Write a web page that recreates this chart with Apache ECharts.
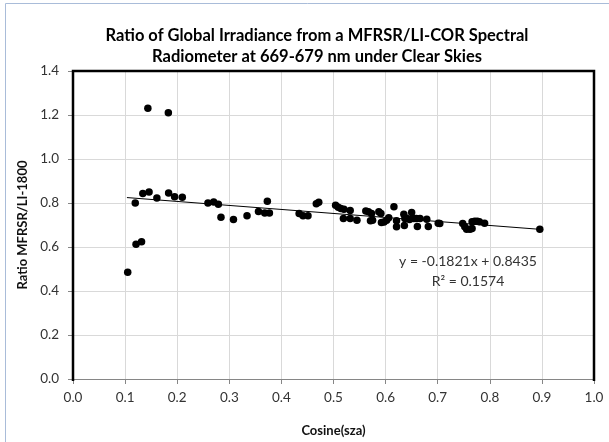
<!DOCTYPE html>
<html>
<head>
<meta charset="utf-8">
<script src="https://cdn.jsdelivr.net/npm/echarts@6/dist/echarts.min.js"></script>
<style>
  html, body { margin: 0; padding: 0; background: #fff; }
  #main { width: 609px; height: 442px; }
</style>
</head>
<body>
<div id="main"></div>
<script>
// 数据: cos(sza) 和 MFRSR/LI-1800 比值
var cosSza = [0.105, 0.1195, 0.121, 0.1316, 0.134, 0.1437, 0.146, 0.161, 0.183, 0.1835,
  0.195, 0.2098, 0.259, 0.270, 0.279, 0.284, 0.308, 0.334, 0.356, 0.368,
  0.373, 0.377, 0.434, 0.4415, 0.451, 0.467, 0.4717, 0.504, 0.509, 0.514,
  0.519, 0.520, 0.532, 0.532, 0.545, 0.562, 0.567, 0.571, 0.573, 0.575,
  0.587, 0.591, 0.592, 0.597, 0.602, 0.606, 0.616, 0.621, 0.621, 0.635,
  0.637, 0.636, 0.641, 0.646, 0.650, 0.654, 0.659, 0.661, 0.666, 0.679,
  0.682, 0.701, 0.704, 0.748, 0.752, 0.7555, 0.762, 0.766, 0.766, 0.771,
  0.776, 0.780, 0.790, 0.896];
var ratio = [0.485, 0.800, 0.613, 0.624, 0.843, 1.231, 0.850, 0.823, 1.210, 0.846,
  0.828, 0.826, 0.800, 0.805, 0.794, 0.735, 0.725, 0.742, 0.761, 0.755,
  0.808, 0.755, 0.752, 0.742, 0.742, 0.797, 0.803, 0.790, 0.781, 0.775,
  0.730, 0.772, 0.766, 0.730, 0.722, 0.764, 0.760, 0.719, 0.752, 0.722,
  0.760, 0.752, 0.711, 0.714, 0.722, 0.733, 0.783, 0.719, 0.692, 0.749,
  0.729, 0.698, 0.729, 0.725, 0.757, 0.729, 0.729, 0.693, 0.729, 0.726,
  0.693, 0.708, 0.707, 0.707, 0.692, 0.681, 0.681, 0.684, 0.715, 0.717,
  0.717, 0.715, 0.708, 0.681];
// 趋势线 (Excel 给出的方程)
var trendSlope = -0.1821;
var trendIntercept = 0.8435;
var trendRange = [0.1035, 0.896];
var eqLabel = 'y = -0.1821x + 0.8435';
var r2Label = 'R² = 0.1574';

(function(){
  var myChart = echarts.init(document.getElementById('main'));
  var points = cosSza.map(function (x, i) { return [x, ratio[i]]; });
  var trend = trendRange.map(function (x) { return [x, trendSlope * x + trendIntercept]; });
  var font = 'Lato, "Open Sans", sans-serif';
  var gridBox = { left: 73, right: 15, top: 71, bottom: 61 };
  var plotW = 609 - gridBox.left - gridBox.right;
  var plotH = 442 - gridBox.top - gridBox.bottom;

  var option = {
    animation: false,
    textStyle: { fontFamily: font },
    title: {
      text: 'Ratio of Global Irradiance from a MFRSR/LI-COR Spectral\nRadiometer at 669-679 nm under Clear Skies',
      left: 312,
      top: 20,
      textAlign: 'center',
      textStyle: { fontSize: 16.5, fontWeight: 'bold', color: '#000', lineHeight: 21, fontFamily: font }
    },
    grid: gridBox,
    xAxis: {
      type: 'value',
      min: 0, max: 1, interval: 0.1,
      name: 'Cosine(sza)',
      nameLocation: 'middle',
      nameGap: 45,
      nameTextStyle: { fontSize: 13, fontWeight: 'bold', color: '#111' },
      axisLine: { show: true, onZero: false, lineStyle: { color: '#868686', width: 1 } },
      axisTick: { show: true, length: 5, lineStyle: { color: '#868686' } },
      axisLabel: { fontSize: 13.5, color: '#333', margin: 12, formatter: function (v) { return v.toFixed(1); } },
      splitLine: { show: true, lineStyle: { color: '#d9d9d9', width: 1 } }
    },
    yAxis: {
      type: 'value',
      min: 0, max: 1.4, interval: 0.2,
      name: 'Ratio MFRSR/LI-1800',
      nameLocation: 'middle',
      nameGap: 36,
      nameTextStyle: { fontSize: 13, fontWeight: 'bold', color: '#111' },
      axisLine: { show: true, onZero: false, lineStyle: { color: '#000', width: 2 } },
      axisTick: { show: true, length: 5, lineStyle: { color: '#868686' } },
      axisLabel: { fontSize: 13.5, color: '#333', margin: 14, formatter: function (v) { return v.toFixed(1); } },
      splitLine: { show: true, lineStyle: { color: '#d9d9d9', width: 1 } }
    },
    graphic: [
      {
        type: 'rect', silent: true, z: -10,
        shape: { x: 5.5, y: 3.5, width: 700, height: 600 },
        style: { fill: 'none', stroke: '#a9bcd9', lineWidth: 1 }
      },
      {
        // 绘图区黑色边框 (左、上、右)
        type: 'polyline', silent: true, z: 50,
        shape: { points: [
          [gridBox.left, gridBox.top + plotH],
          [gridBox.left, gridBox.top],
          [gridBox.left + plotW, gridBox.top],
          [gridBox.left + plotW, gridBox.top + plotH]
        ] },
        style: { fill: null, stroke: '#000', lineWidth: 2.5 }
      },
      {
        type: 'text', z: 100, x: 468, y: 261,
        style: { text: eqLabel, align: 'center', verticalAlign: 'middle', font: '14px ' + font, fill: '#333' }
      },
      {
        type: 'text', z: 100, x: 468, y: 281,
        style: { text: r2Label, align: 'center', verticalAlign: 'middle', font: '14px ' + font, fill: '#333' }
      }
    ],
    series: [
      {
        name: 'Ratio',
        type: 'scatter',
        data: points,
        symbol: 'circle',
        symbolSize: 7.5,
        itemStyle: { color: '#000', opacity: 1 },
        z: 3
      },
      {
        name: 'Trend',
        type: 'line',
        data: trend,
        showSymbol: false,
        symbol: 'none',
        lineStyle: { color: '#000', width: 1 },
        z: 2
      }
    ]
  };
  myChart.setOption(option);
  window.addEventListener("resize", function(){
    myChart.resize();
  });
})();
</script>
</body>
</html>
